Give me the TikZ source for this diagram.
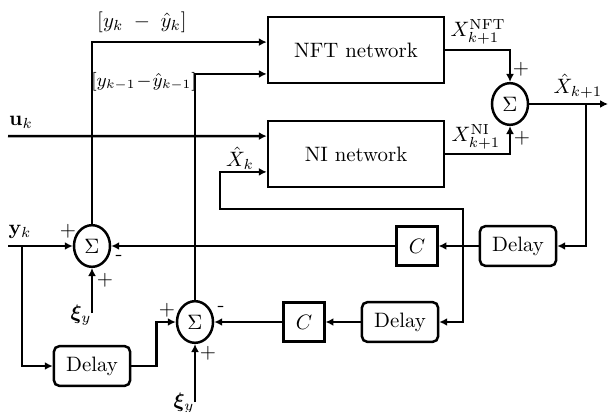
\documentclass[tikz,border=0pt]{standalone}
\usepackage{amsmath, amssymb, bm}
\usepackage{tikz}
\usetikzlibrary{arrows.meta, shapes.geometric}
\tikzset{
  netbox/.style={
    rectangle,
    draw=black,
    line width=1.2pt,
    align=center,
    minimum width=84.5pt,
    minimum height=31.7pt
  },
  delaybox/.style={
    rectangle,
    rounded corners=2.5pt,
    draw=black,
    line width=1.2pt,
    minimum width=36.5pt,
    minimum height=19pt
  },
  gainbox/.style={
    rectangle,
    draw=black,
    line width=1.2pt,
    minimum width=19.5pt,
    minimum height=18.7pt
  },
  sumnode/.style={
    ellipse,
    draw=black,
    line width=1.2pt,
    inner sep=0pt,
    minimum width=17.3pt,
    minimum height=20pt
  },
  arrow/.style={
    -{Latex[length=3.8pt, width=3.8pt]},
    line width=1.2pt
  },
  lbl/.style={
    inner sep=1pt
  }
}

\begin{document}
\begin{tikzpicture}[x=0.48pt, y=-0.48pt]
    \useasboundingbox (0,0) rectangle (610,411);

    % blocks
    \node[netbox] (nft) at (356,50) {NFT network};
    \node[netbox] (ni) at (356,154) {NI network};
    \node[sumnode] (sumout) at (510,104) {$\Sigma$};
    \node[delaybox] (delayA) at (518,246) {Delay};
    \node[gainbox] (gainA) at (417,246) {$C$};
    \node[sumnode] (sumA) at (92,246) {$\Sigma$};
    \node[delaybox] (delayB) at (400,322) {Delay};
    \node[gainbox] (gainB) at (304,322) {$C$};
    \node[sumnode] (sumB) at (195,322) {$\Sigma$};
    \node[delaybox] (delayC) at (92,366) {Delay};

    % free ends and branch points
    \coordinate (uin) at (8,136);
    \coordinate (yin) at (8,246);
    \coordinate (ybr) at (22,246);
    \coordinate (xiA) at (92,313);
    \coordinate (xiB) at (195,402);
    \coordinate (xout) at (608,104);
    \coordinate (outbr) at (586,104);
    \coordinate (xbr) at (463,246);
    \coordinate (xtop) at (463,209);
    \coordinate (xleft) at (220,209);

    % network outputs
    \draw[arrow] (nft.east) -| (sumout.north);
    \draw[arrow] (ni.east) -| (sumout.south);
    \draw[arrow] (sumout.east) -- (xout);

    % state feedback
    \draw[arrow] (outbr) |- (delayA.east);
    \draw[arrow] (delayA) -- (gainA);
    \draw[arrow] (gainA) -- (sumA);
    \draw[arrow] (xbr) -- (xtop) -- (xleft) |- ([yshift=-8.6pt]ni.west);
    \draw[arrow] (xbr) |- (delayB.east);
    \draw[arrow] (delayB) -- (gainB);
    \draw[arrow] (gainB) -- (sumB);

    % measurement path
    \draw[arrow] (yin) -- (sumA.west);
    \draw[arrow] (ybr) |- (delayC.west);
    \draw[arrow] (delayC.east) -- +(12pt,0) |- (sumB.west);
    \draw[arrow] (xiA) -- (sumA.south);
    \draw[arrow] (xiB) -- (sumB.south);
    \draw[arrow] (sumA.north) |- ([yshift=3.8pt]nft.west);
    \draw[arrow] (sumB.north) |- ([yshift=-11.5pt]nft.west);
    \draw[arrow] (uin) -- ([yshift=8.6pt]ni.west);

    % labels
    \node[lbl] (lblerr) at (142,22) {$[y_k\;-\;\hat{y}_k]$};
    \node[lbl, font=\small] (lblerrold) at (144,82) {$[y_{k-1}\!-\!\hat{y}_{k-1}]$};
    \node[lbl] (lblnft) at (478,32) {$X_{k+1}^{\mathrm{NFT}}$};
    \node[lbl] (lblni) at (476,137) {$X_{k+1}^{\mathrm{NI}}$};
    \node[lbl] (lblout) at (578,86) {$\hat{X}_{k+1}$};
    \node[lbl] (lblxk) at (240,158) {$\hat{X}_k$};
    \node[lbl] (lbluk) at (21,122) {$\mathbf{u}_k$};
    \node[lbl] (lblyk) at (20,232) {$\mathbf{y}_k$};
    \node[lbl] (lblxiA) at (81,315) {$\bm{\xi}_y$};
    \node[lbl] (lblxiB) at (184,403) {$\bm{\xi}_y$};

    % signs at the summing junctions
    \node[lbl] (pnft) at (521,69) {$+$};
    \node[lbl] (pni) at (522,138) {$+$};
    \node[lbl] (pyA) at (68,231) {$+$};
    \node[lbl] (mA) at (119,258) {-};
    \node[lbl] (pxiA) at (105,280) {$+$};
    \node[lbl] (pyB) at (167,310) {$+$};
    \node[lbl] (mB) at (221,309) {-};
    \node[lbl] (pxiB) at (208,353) {$+$};
\end{tikzpicture}
\end{document}
